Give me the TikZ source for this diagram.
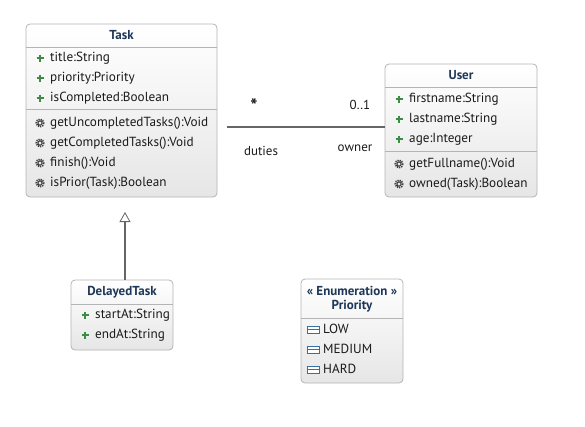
\documentclass[tikz,border=0pt]{standalone}
\usepackage{fontspec}
\setmainfont{PT Sans}
\usetikzlibrary{arrows.meta}
\definecolor{boxborder}{HTML}{B4B4B4}
\definecolor{boxbottom}{HTML}{E6E6E6}
\definecolor{titlecol}{HTML}{1D3857}
\definecolor{txtcol}{HTML}{1A1A1A}
\definecolor{plusgreen}{HTML}{3C8C46}
\definecolor{gearcol}{HTML}{404040}
\definecolor{enumblue}{HTML}{3A6EA5}
\definecolor{linecol}{HTML}{666666}
\tikzset{
  x=1pt, y=-1pt,
  umlbox/.style={draw=boxborder, rounded corners=4pt, top color=white, bottom color=boxbottom, line width=0.8pt, inner sep=0pt},
  sepline/.style={draw=boxborder, line width=0.8pt},
  titletext/.style={font=\fontsize{13}{15}\selectfont\bfseries, text=titlecol, inner sep=0pt},
  membertext/.style={font=\fontsize{13.2}{15}\selectfont, text=txtcol, anchor=west, inner sep=0pt},
  labeltext/.style={font=\fontsize{13}{15}\selectfont, text=txtcol, inner sep=0pt},
  assoc/.style={draw=linecol, line width=2pt},
  plusicon/.pic={\draw[plusgreen, line width=1.9pt] (-3.5,0) -- (3.5,0) (0,-3.5) -- (0,3.5);},
  gearicon/.pic={\draw[gearcol, line width=1.8pt, dash pattern=on 1.2pt off 1pt] (0,0) circle (3.7);
                 \draw[gearcol, line width=1pt] (0,0) circle (2.1);},
  enumicon/.pic={\draw[enumblue, line width=1pt, fill=white] (-6,-3.5) rectangle (6,3.5);
                 \draw[enumblue, line width=1pt] (-6,0) -- (6,0);}
}
\begin{document}
\begin{tikzpicture}
\useasboundingbox (0,0) rectangle (585,426);
% Task
\node[umlbox, minimum width=191pt, minimum height=173pt] (task) at (121.5,110.5) {};
\node[titletext] (taskname) at (121.5,35.5) {Task};
\draw[sepline] (26,47) -- (217,47);
\draw[sepline] (26,109) -- (217,109);
\pic at (40,58) {plusicon};
\node[membertext] (t1) at (50,58) {title:String};
\pic at (40,78) {plusicon};
\node[membertext] (t2) at (50,78) {priority:Priority};
\pic at (40,98) {plusicon};
\node[membertext] (t3) at (50,98) {isCompleted:Boolean};
\pic at (40,123) {gearicon};
\node[membertext] (t4) at (50,123) {getUncompletedTasks():Void};
\pic at (40,143) {gearicon};
\node[membertext] (t5) at (50,143) {getCompletedTasks():Void};
\pic at (40,163) {gearicon};
\node[membertext] (t6) at (50,163) {finish():Void};
\pic at (40,183) {gearicon};
\node[membertext] (t7) at (50,183) {isPrior(Task):Boolean};
% User
\node[umlbox, minimum width=152pt, minimum height=133pt] (user) at (461,130.5) {};
\node[titletext] (username) at (461,75.5) {User};
\draw[sepline] (385,87) -- (537,87);
\draw[sepline] (385,151) -- (537,151);
\pic at (399,99) {plusicon};
\node[membertext] (u1) at (409,99) {firstname:String};
\pic at (399,119) {plusicon};
\node[membertext] (u2) at (409,119) {lastname:String};
\pic at (399,139) {plusicon};
\node[membertext] (u3) at (409,139) {age:Integer};
\pic at (399,164) {gearicon};
\node[membertext] (u4) at (409,164) {getFullname():Void};
\pic at (399,184) {gearicon};
\node[membertext] (u5) at (409,184) {owned(Task):Boolean};
% DelayedTask
\node[umlbox, minimum width=102pt, minimum height=70pt] (delayed) at (122,315) {};
\node[titletext] (delayedname) at (122,292.5) {DelayedTask};
\draw[sepline] (71,304) -- (173,304);
\pic at (85,315) {plusicon};
\node[membertext] (d1) at (95,315) {startAt:String};
\pic at (85,335) {plusicon};
\node[membertext] (d2) at (95,335) {endAt:String};
% Priority enumeration
\node[umlbox, minimum width=102pt, minimum height=104pt] (priority) at (352,331) {};
\node[titletext] (stereo) at (352,290.5) {« Enumeration »};
\node[titletext] (priorityname) at (352,306.5) {Priority};
\draw[sepline] (301,318) -- (403,318);
\pic at (313.5,329.5) {enumicon};
\node[membertext] (p1) at (323,329) {LOW};
\pic at (313.5,349.5) {enumicon};
\node[membertext] (p2) at (323,349) {MEDIUM};
\pic at (313.5,369.5) {enumicon};
\node[membertext] (p3) at (323,369) {HARD};
% Association
\coordinate (assocstart) at (227,127);
\draw[assoc] (assocstart) -- (assocstart -| user.west);
\node[labeltext, font=\fontsize{19}{21}\selectfont\bfseries] (mult1) at (254,105.5) {*};
\node[labeltext] (mult2) at (360,105) {0..1};
\node[labeltext] (role1) at (261,151) {duties};
\node[labeltext] (role2) at (355,148) {owner};
% Generalization
\coordinate (gentip) at (125,212);
\draw[draw=linecol, line width=1.2pt, -{Triangle[open, length=10pt, width=11pt, line width=0.8pt]}] (gentip |- delayed.north) -- (gentip);
\end{tikzpicture}
\end{document}
